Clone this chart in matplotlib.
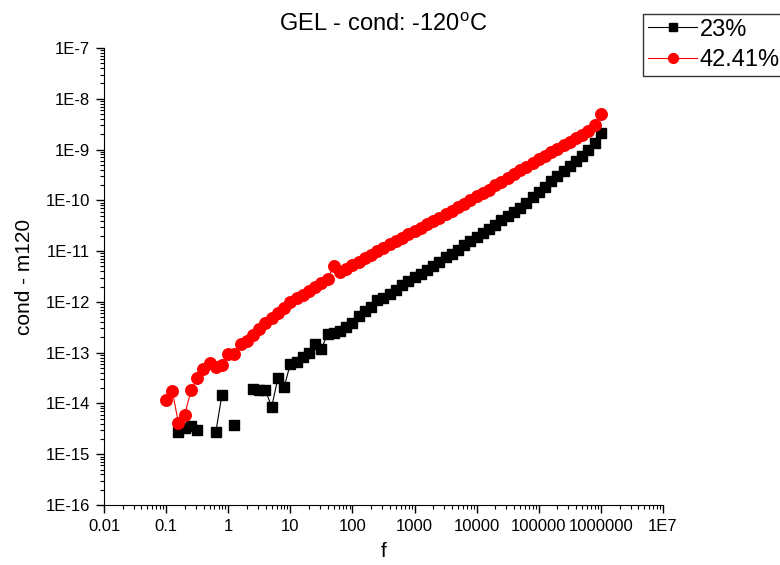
import matplotlib
matplotlib.use("Agg")
from matplotlib import pyplot as plt
from matplotlib import ticker
import numpy as np

plt.rcParams['font.family'] = ['Liberation Sans', 'DejaVu Sans']
plt.rcParams['mathtext.fontset'] = 'custom'
plt.rcParams['mathtext.rm'] = 'Liberation Sans'

nan = float('nan')

# frequency sweep (Hz), 10 points per decade
freq = [0.1, 0.126, 0.158, 0.2, 0.251, 0.316, 0.398, 0.501, 0.631, 0.794,
        1, 1.26, 1.58, 2.0, 2.51, 3.16, 3.98, 5.01, 6.31, 7.94,
        10, 12.6, 15.8, 20, 25.1, 31.6, 39.8, 50.1, 63.1, 79.4,
        100, 126, 158, 200, 251, 316, 398, 501, 631, 794,
        1000, 1260, 1580, 2000, 2510, 3160, 3980, 5010, 6310, 7940,
        1e4, 12600, 15800, 20000, 25100, 31600, 39800, 50100, 63100, 79400,
        1e5, 126000, 158000, 200000, 251000, 316000, 398000, 501000, 631000, 794000,
        1e6]

# 23% sample (gaps = missing points)
cond_23 = [nan, nan, 2.74e-15, 3.3e-15, 3.55e-15, 3.0e-15, nan, nan, 2.74e-15, 1.5e-14,
           nan, 3.8e-15, nan, nan, 1.9e-14, 1.85e-14, 1.8e-14, 8.5e-15, 3.2e-14, 2.1e-14,
           6.0e-14, 6.6e-14, 8.2e-14, 1.0e-13, 1.45e-13, 1.2e-13, 2.33e-13, 2.44e-13, 2.67e-13, 3.21e-13,
           3.85e-13, 5.28e-13, 6.64e-13, 7.96e-13, 1.10e-12, 1.20e-12, 1.44e-12, 1.73e-12, 2.17e-12, 2.60e-12,
           3.12e-12, 3.57e-12, 4.29e-12, 5.14e-12, 6.18e-12, 7.74e-12, 8.89e-12, 1.07e-11, 1.34e-11, 1.61e-11,
           1.93e-11, 2.31e-11, 2.77e-11, 3.33e-11, 4.18e-11, 5.01e-11, 6.01e-11, 7.21e-11, 9.06e-11, 1.14e-10,
           1.43e-10, 1.79e-10, 2.36e-10, 2.95e-10, 3.71e-10, 4.66e-10, 5.85e-10, 7.35e-10, 9.64e-10, 1.33e-9,
           2.09e-9]

# 42.41% sample
cond_4241 = [1.15e-14, 1.74e-14, 4.12e-15, 6.04e-15, 1.80e-14, 3.19e-14, 4.68e-14, 6.31e-14, 5.19e-14, 5.61e-14,
             9.51e-14, 9.51e-14, 1.46e-13, 1.69e-13, 2.23e-13, 2.93e-13, 3.85e-13, 4.83e-13, 6.07e-13, 7.61e-13,
             1.0e-12, 1.20e-12, 1.37e-12, 1.65e-12, 1.98e-12, 2.37e-12, 2.85e-12, 5.14e-12, 3.92e-12, 4.49e-12,
             5.26e-12, 6.18e-12, 7.24e-12, 8.49e-12, 9.96e-12, 1.17e-11, 1.37e-11, 1.61e-11, 1.84e-11, 2.16e-11,
             2.53e-11, 2.90e-11, 3.40e-11, 3.99e-11, 4.57e-11, 5.36e-11, 6.28e-11, 7.38e-11, 8.65e-11, 1.01e-10,
             1.19e-10, 1.39e-10, 1.63e-10, 1.96e-10, 2.30e-10, 2.70e-10, 3.24e-10, 3.88e-10, 4.55e-10, 5.33e-10,
             6.40e-10, 7.50e-10, 8.81e-10, 1.03e-9, 1.21e-9, 1.42e-9, 1.66e-9, 1.95e-9, 2.34e-9, 3.01e-9,
             4.97e-9]

x_ticks = [0.01, 0.1, 1, 10, 100, 1000, 1e4, 1e5, 1e6, 1e7]
x_labels = ["0.01", "0.1", "1", "10", "100", "1000", "10000", "100000", "1000000", "1E7"]
y_ticks = [1e-16, 1e-15, 1e-14, 1e-13, 1e-12, 1e-11, 1e-10, 1e-9, 1e-8, 1e-7]
y_labels = ["1E-16", "1E-15", "1E-14", "1E-13", "1E-12", "1E-11", "1E-10", "1E-9", "1E-8", "1E-7"]

fig = plt.figure(figsize=(7.8, 5.65), dpi=100)
ax = fig.add_axes([104 / 780.0, 1 - 505 / 565.0, (663 - 104) / 780.0, (505 - 48) / 565.0])

ax.plot(freq, cond_23, color='black', lw=0.8, marker='s', ms=7, mec='black', mfc='black', label='23%')
ax.plot(freq, cond_4241, color='red', lw=0.8, marker='o', ms=8.3, mec='red', mfc='red', label='42.41%')

ax.set_xscale('log')
ax.set_yscale('log')
ax.set_xlim(0.01, 1e7)
ax.set_ylim(1e-16, 1e-7)

ax.set_xticks(x_ticks)
ax.set_xticklabels(x_labels)
ax.set_yticks(y_ticks)
ax.set_yticklabels(y_labels)
ax.xaxis.set_minor_locator(ticker.LogLocator(base=10, subs=np.arange(2, 10), numticks=20))
ax.yaxis.set_minor_locator(ticker.LogLocator(base=10, subs=np.arange(2, 10), numticks=20))
ax.xaxis.set_minor_formatter(ticker.NullFormatter())
ax.yaxis.set_minor_formatter(ticker.NullFormatter())

ax.spines['top'].set_visible(False)
ax.spines['right'].set_visible(False)
ax.tick_params(which='major', direction='out', length=6, width=1, labelsize=12, pad=4)
ax.tick_params(which='minor', direction='out', length=3, width=0.8)

ax.set_xlabel("f", fontsize=15, labelpad=6)
ax.set_ylabel("cond - m120", fontsize=15, labelpad=8)
ax.set_title(r"GEL - cond: -120$^{\mathrm{o}}$C", fontsize=17, pad=12)

leg = fig.legend(loc='upper left', bbox_to_anchor=(643 / 780.0, 1 - 14 / 565.0), fontsize=17,
                 frameon=True, fancybox=False, handlelength=2.1, handletextpad=0.1,
                 borderpad=0.2, labelspacing=0.35, borderaxespad=0, markerscale=0.85)
leg.get_frame().set_edgecolor('black')
leg.get_frame().set_linewidth(1)

fig.savefig("out.png", dpi=100)
